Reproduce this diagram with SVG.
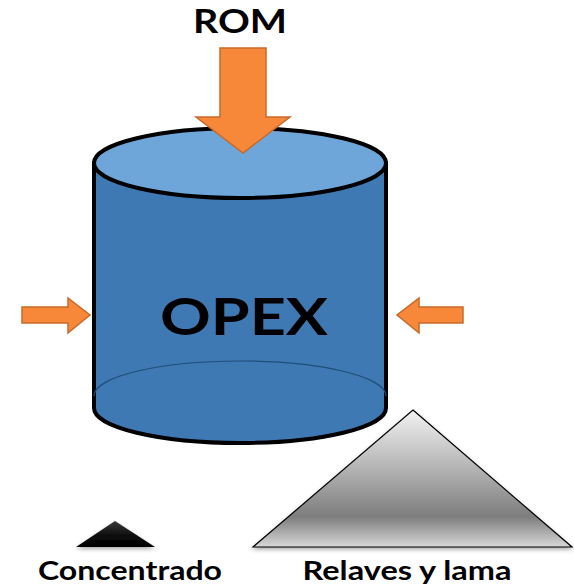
<svg xmlns="http://www.w3.org/2000/svg" width="574" height="585" viewBox="0 0 574 585">
  <defs>
    <style>
      .lbl { font-family: Lato, "Open Sans", "Liberation Sans", sans-serif; font-weight: bold; fill: #000; text-anchor: middle; }
      .arrow { fill: #F7883A; stroke: #C8692A; stroke-width: 1.5; stroke-linejoin: miter; }
    </style>
    <linearGradient id="pileGrad" x1="0" y1="0" x2="0" y2="1">
      <stop offset="0" stop-color="#F2F2F2"/>
      <stop offset="0.45" stop-color="#B0B0B0"/>
      <stop offset="0.78" stop-color="#7D7D7D"/>
      <stop offset="1" stop-color="#D8D8D8"/>
    </linearGradient>
    <linearGradient id="concGrad" x1="0" y1="0" x2="0" y2="1">
      <stop offset="0" stop-color="#3A3A3A"/>
      <stop offset="0.6" stop-color="#0A0A0A"/>
      <stop offset="1" stop-color="#000"/>
    </linearGradient>
    <filter id="soft" x="-10%" y="-10%" width="120%" height="130%">
      <feGaussianBlur in="SourceAlpha" stdDeviation="2"/>
      <feOffset dy="2"/>
      <feComponentTransfer><feFuncA type="linear" slope="0.35"/></feComponentTransfer>
      <feMerge><feMergeNode/><feMergeNode in="SourceGraphic"/></feMerge>
    </filter>
  </defs>

  <rect width="574" height="585" fill="#fff"/>

  <!-- OPEX tank -->
  <g id="opex">
    <path d="M94,163 L94,408 A146,35 0 0 0 386,408 L386,163 Z" fill="#3E79B4" stroke="#000" stroke-width="4"/>
    <path d="M94,396 A146,35 0 0 1 386,396" fill="none" stroke="#1F4E7A" stroke-width="1.2"/>
    <ellipse cx="240" cy="163" rx="146" ry="35" fill="#6FA6DA" stroke="#000" stroke-width="4"/>
    <text class="lbl" x="244" y="335" font-size="52" textLength="168" lengthAdjust="spacingAndGlyphs">OPEX</text>
  </g>

  <!-- ROM feed -->
  <g id="rom">
    <text class="lbl" x="240" y="33" font-size="32" textLength="94" lengthAdjust="spacingAndGlyphs">ROM</text>
  </g>

  <!-- Tailings pile -->
  <g id="relaves">
    <polygon points="413,410 572,547 253,547" fill="url(#pileGrad)" stroke="#000" stroke-width="1.2" filter="url(#soft)"/>
    <text class="lbl" x="407" y="580" font-size="26" textLength="209" lengthAdjust="spacingAndGlyphs">Relaves y lama</text>
  </g>

  <!-- Concentrate pile -->
  <g id="concentrado">
    <polygon points="115,521 155,547 76,547" fill="url(#concGrad)" filter="url(#soft)"/>
    <text class="lbl" x="130" y="580" font-size="26" textLength="184" lengthAdjust="spacingAndGlyphs">Concentrado</text>
  </g>

  <!-- Feed arrows -->
  <g id="connectors">
    <path class="arrow" d="M220,48 L266,48 L266,117 L290,117 L243,153 L196,117 L220,117 Z"/>
    <path class="arrow" d="M22,307 L68,307 L68,298 L90,315 L68,333 L68,323 L22,323 Z"/>
    <path class="arrow" d="M463,307 L419,307 L419,298 L397,315 L419,333 L419,323 L463,323 Z"/>
  </g>
</svg>
